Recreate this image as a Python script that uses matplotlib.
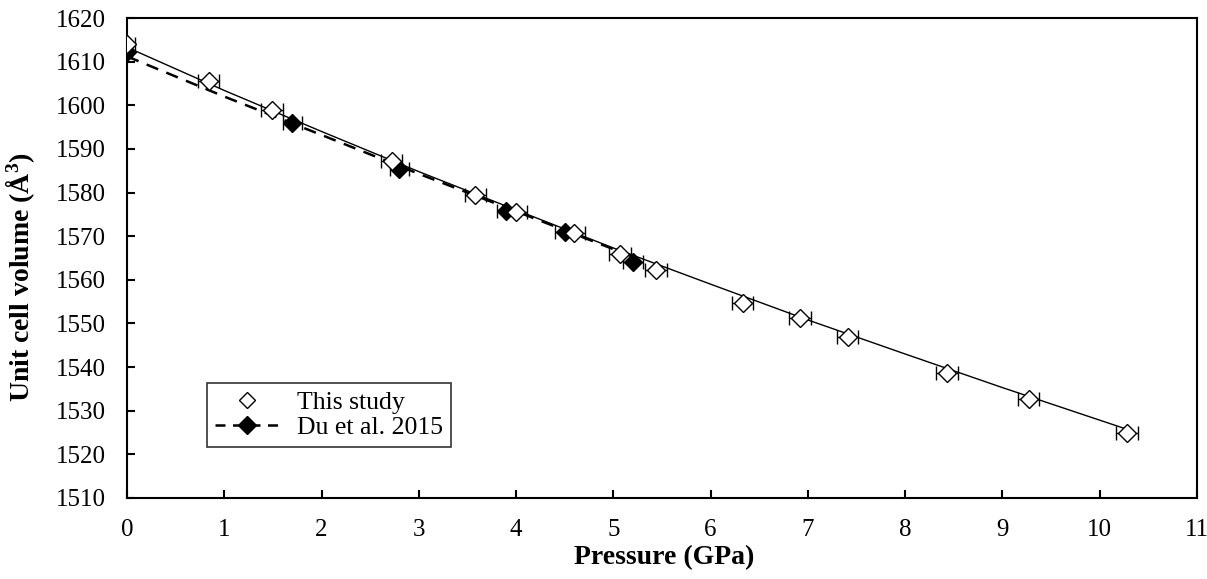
import numpy as np
import matplotlib
matplotlib.use("Agg")
import matplotlib.pyplot as plt

# This study
p_this = [0.0, 0.84, 1.49, 2.72, 3.58, 4.00, 4.60, 5.07, 5.44, 6.33, 6.92, 7.41, 8.43, 9.27, 10.28]
v_this = [1614.0, 1605.5, 1599.0, 1587.2, 1579.5, 1575.5, 1570.7, 1566.0, 1562.3, 1554.6, 1551.2, 1547.0, 1538.7, 1532.8, 1525.0]
perr_this = [0.08, 0.11, 0.11, 0.11, 0.11, 0.11, 0.11, 0.11, 0.11, 0.11, 0.11, 0.11, 0.11, 0.11, 0.11]

# Du et al. 2015
p_du = [0.0, 1.7, 2.8, 3.9, 4.5, 5.2]
v_du = [1612.3, 1596.0, 1585.5, 1575.8, 1571.0, 1564.0]
perr_du = [0.05, 0.1, 0.1, 0.1, 0.1, 0.1]

# fitted curves
fit_p_this = [0.0, 1.0, 2.0, 3.0, 4.0, 5.0, 6.0, 7.0, 8.0, 9.0, 10.3]
fit_v_this = [1613.3, 1603.4, 1594.0, 1584.8, 1576.0, 1567.3, 1559.0, 1550.8, 1543.0, 1535.3, 1525.6]
fit_p_du = [0.0, 1.0, 2.0, 3.0, 4.0, 5.2]
fit_v_du = [1611.2, 1602.0, 1593.2, 1584.3, 1575.7, 1565.3]

plt.rcParams["font.family"] = ["Liberation Serif", "DejaVu Serif"]
plt.rcParams["mathtext.fontset"] = "custom"
plt.rcParams["mathtext.bf"] = "Liberation Serif:bold"

fig = plt.figure(figsize=(12.07, 5.79), dpi=100)
ax = fig.add_axes([0.1052, 0.1399, 0.8865, 0.829])

dash = (0, (5, 3.5))
ax.plot(fit_p_this, fit_v_this, color="black", lw=1.0, zorder=2)
ax.plot(fit_p_du, fit_v_du, color="black", lw=1.8, ls=dash, zorder=2)

ax.errorbar(p_du, v_du, xerr=perr_du, fmt="none", ecolor="black", elinewidth=1.0, capsize=5, zorder=3)
ax.plot(p_du, v_du, ls="none", marker="D", ms=9.5, mfc="black", mec="black", zorder=3)

ax.errorbar(p_this, v_this, xerr=perr_this, fmt="none", ecolor="black", elinewidth=1.0, capsize=5, zorder=4)
ax.plot(p_this, v_this, ls="none", marker="D", ms=9, mfc="white", mec="black", mew=1.0, zorder=4)

# legend handles
h1, = ax.plot([], [], ls="none", marker="D", ms=8.5, mfc="white", mec="black")
h2, = ax.plot([], [], color="black", lw=1.8, ls=(0, (4, 3)), marker="D", ms=9, mfc="black", mec="black")
leg = ax.legend([h1, h2], ["This study", "Du et al. 2015"], loc="lower left",
                bbox_to_anchor=(0.075, 0.106), fontsize=18.5, frameon=True, fancybox=False,
                edgecolor="black", handlelength=2.5, handletextpad=0.7, borderpad=0.3,
                borderaxespad=0.0, labelspacing=0.1)
leg.get_frame().set_linewidth(1.2)

ax.set_xlim(0, 11)
ax.set_ylim(1510, 1620)
ax.set_xticks(np.arange(0, 12, 1))
ax.set_yticks(np.arange(1510, 1621, 10))
ax.tick_params(axis="both", direction="in", length=6, width=1.5, labelsize=18)
ax.tick_params(axis="y", pad=15)
ax.tick_params(axis="x", pad=15)
for s in ax.spines.values():
    s.set_linewidth(1.5)

ax.set_xlabel("Pressure (GPa)", fontsize=20, fontweight="bold")
ax.set_ylabel("Unit cell volume (Å$\\mathbf{^3}$)", fontsize=20, fontweight="bold")
ax.xaxis.set_label_coords(0.502, -0.098)
ax.yaxis.set_label_coords(-0.084, 0.46)

fig.savefig("out.png", dpi=100)
